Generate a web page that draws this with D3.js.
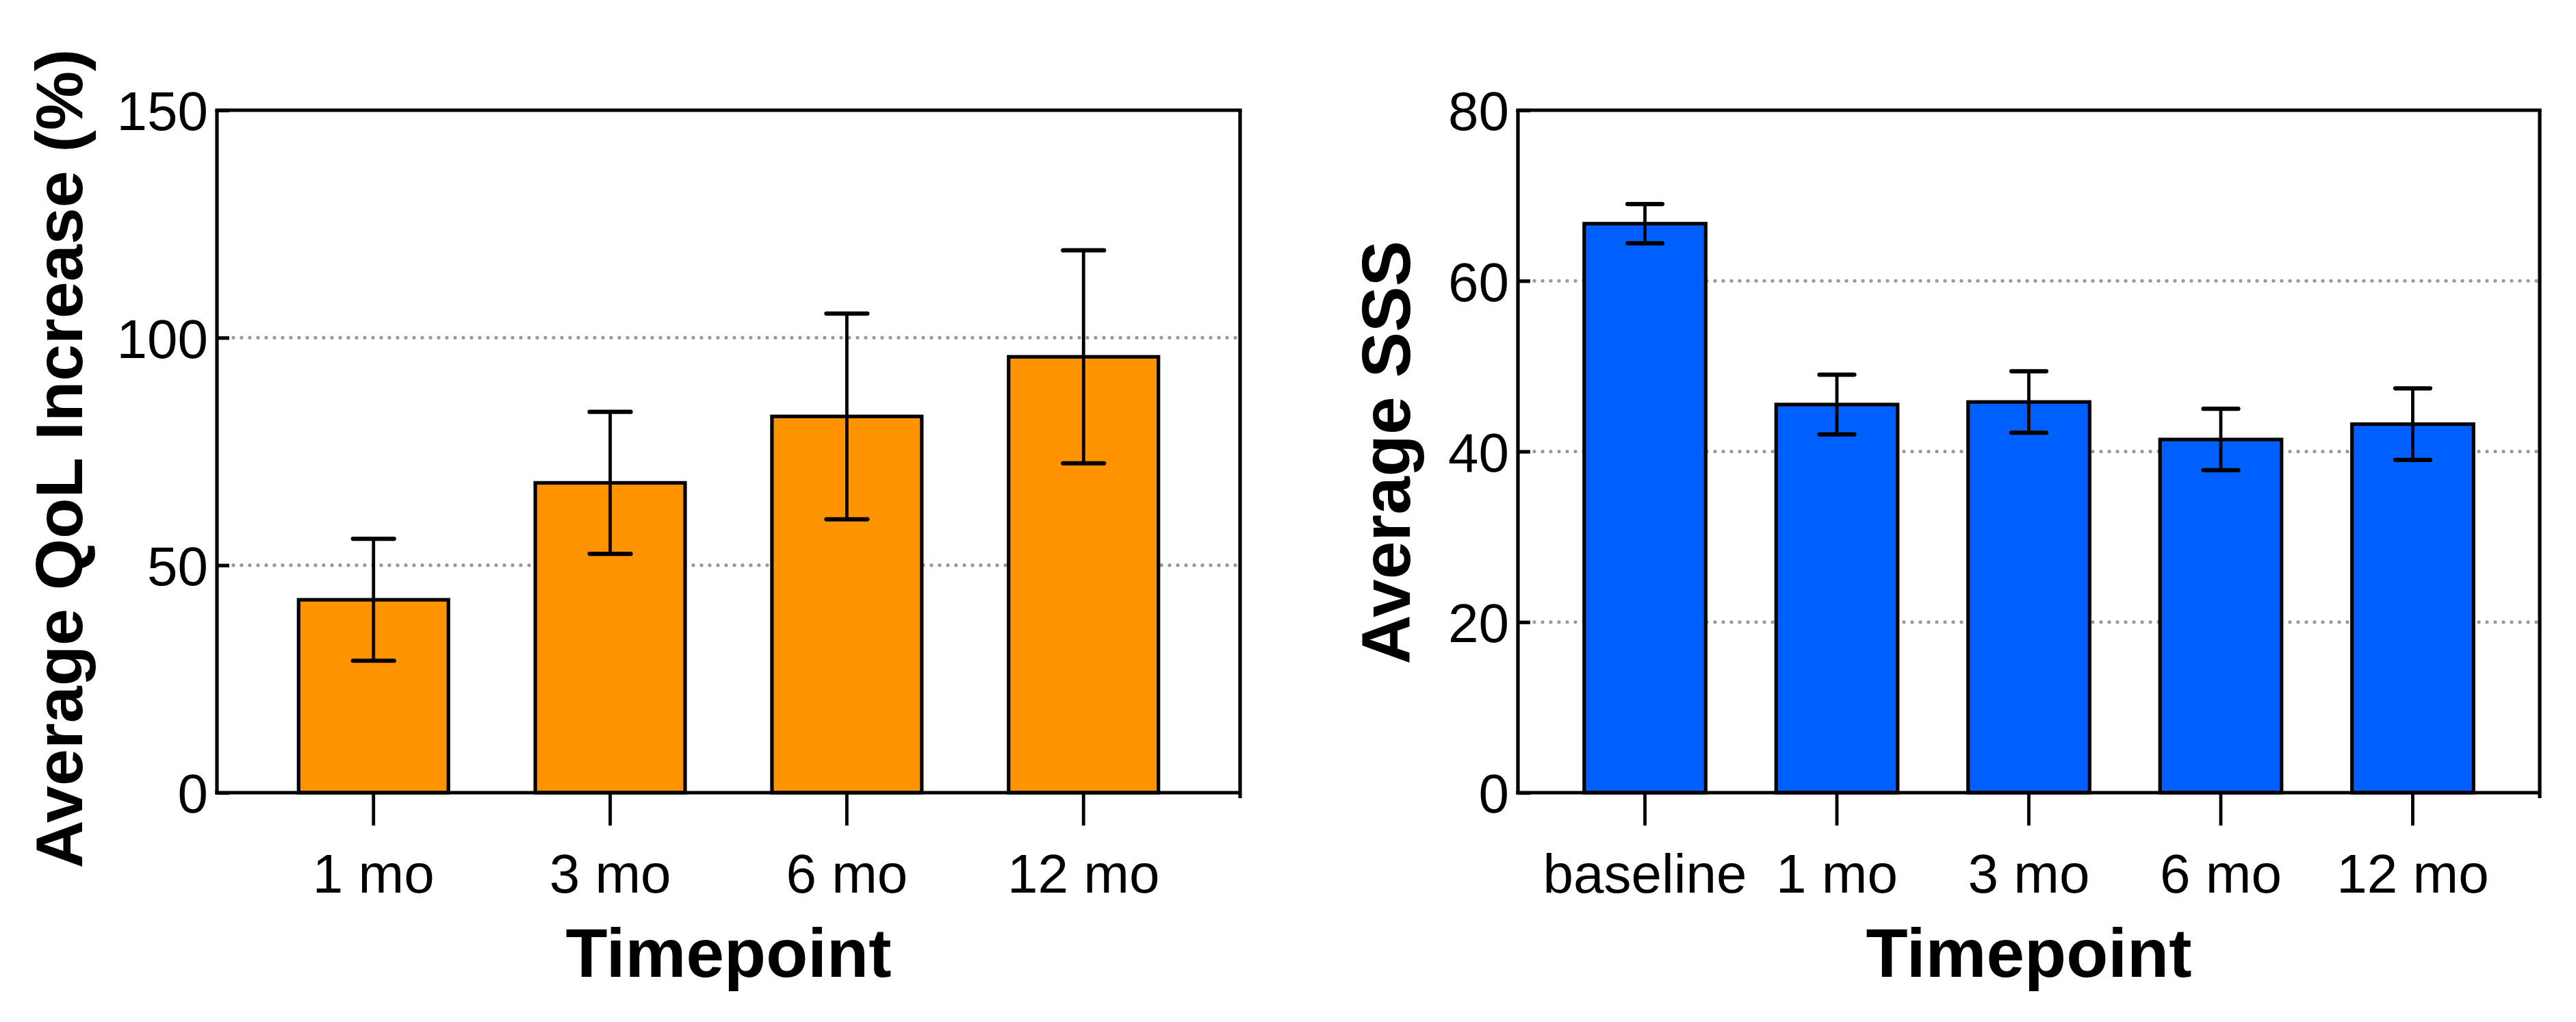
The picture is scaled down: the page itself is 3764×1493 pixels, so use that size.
<!DOCTYPE html>
<html>
<head>
<meta charset="utf-8">
<script src="https://cdn.jsdelivr.net/npm/d3@7/dist/d3.min.js"></script>
<style>
  html, body { margin: 0; padding: 0; background: #ffffff; }
  svg { display: block; }
</style>
</head>
<body>
<svg id="chart" width="3764" height="1493"></svg>
<script>
// ---------- Data ----------
const qolCategories = ["1 mo", "3 mo", "6 mo", "12 mo"];
const qolMeans = [42.4, 68.1, 82.7, 95.8];
const qolErrors = [13.4, 15.6, 22.6, 23.4];
const qolTicks = [0, 50, 100, 150];
const qolGrid = [50, 100];

const sssCategories = ["baseline", "1 mo", "3 mo", "6 mo", "12 mo"];
const sssMeans = [66.7, 45.5, 45.8, 41.4, 43.2];
const sssErrors = [2.3, 3.5, 3.6, 3.6, 4.2];
const sssTicks = [0, 20, 40, 60, 80];
const sssGrid = [20, 40, 60];

// ---------- Layout ----------
const W = 3764, H = 1493;
const FONT = "'Liberation Sans', Arial, Helvetica, sans-serif";
const svg = d3.select("#chart");
svg.append("rect").attr("width", W).attr("height", H).attr("fill", "#ffffff");

function panel(opts) {
  const g = svg.append("g");
  const x = d3.scaleBand()
    .domain(opts.categories)
    .range([opts.left, opts.right])
    .paddingInner(0.367)
    .paddingOuter(0.345);
  const y = d3.scaleLinear()
    .domain([0, opts.yMax])
    .range([opts.bottom, opts.top]);

  const data = opts.categories.map((c, i) => ({ c, m: opts.means[i], e: opts.errors[i] }));

  // gridlines (dotted)
  g.append("g").selectAll("line").data(opts.grid).join("line")
    .attr("x1", opts.left + 24).attr("x2", opts.right - 4)
    .attr("y1", d => y(d)).attr("y2", d => y(d))
    .attr("stroke", "#999999")
    .attr("stroke-width", 5.2)
    .attr("stroke-linecap", "round")
    .attr("stroke-dasharray", "0,12");

  // bars
  g.append("g").selectAll("rect").data(data).join("rect")
    .attr("x", d => x(d.c))
    .attr("width", x.bandwidth())
    .attr("y", d => y(d.m))
    .attr("height", d => y(0) - y(d.m))
    .attr("fill", opts.color)
    .attr("stroke", "#000")
    .attr("stroke-width", 5.2);

  // error bars
  const eb = g.append("g").attr("stroke", "#000");
  eb.selectAll("line.v").data(data).join("line").attr("class", "v")
    .attr("x1", d => x(d.c) + x.bandwidth() / 2)
    .attr("x2", d => x(d.c) + x.bandwidth() / 2)
    .attr("y1", d => y(d.m + d.e))
    .attr("y2", d => y(d.m - d.e))
    .attr("stroke-width", 4.8);
  ["top", "bot"].forEach(k => {
    eb.selectAll("line." + k).data(data).join("line").attr("class", k)
      .attr("x1", d => x(d.c) + x.bandwidth() / 2 - opts.cap / 2)
      .attr("x2", d => x(d.c) + x.bandwidth() / 2 + opts.cap / 2)
      .attr("y1", d => y(k === "top" ? d.m + d.e : d.m - d.e))
      .attr("y2", d => y(k === "top" ? d.m + d.e : d.m - d.e))
      .attr("stroke-width", 6.2)
      .attr("stroke-linecap", "round");
  });

  // y axis (inward ticks)
  const yAxis = d3.axisLeft(y).tickValues(opts.ticks).tickSize(-18).tickPadding(13);
  const ya = g.append("g").attr("transform", `translate(${opts.left},0)`).call(yAxis);
  ya.select(".domain").remove();
  ya.selectAll(".tick line").attr("stroke", "#000").attr("stroke-width", 5.2);
  ya.selectAll(".tick text")
    .attr("font-family", FONT).attr("font-size", 80).attr("fill", "#000")
    .attr("dy", "0.36em");

  // x axis (outward ticks)
  const xAxis = d3.axisBottom(x).tickSize(48).tickPadding(41);
  const xa = g.append("g").attr("transform", `translate(0,${opts.bottom})`).call(xAxis);
  xa.select(".domain").remove();
  xa.selectAll(".tick line").attr("stroke", "#000").attr("stroke-width", 4.8);
  xa.selectAll(".tick text")
    .attr("font-family", FONT).attr("font-size", 80).attr("fill", "#000")
    .attr("dy", "0.71em");

  // frame
  const fr = g.append("g").attr("stroke", "#000").attr("stroke-width", 5.2).attr("fill", "none");
  fr.append("line").attr("x1", opts.left - 2.6).attr("x2", opts.right + 2.6)
    .attr("y1", opts.top).attr("y2", opts.top);
  fr.append("line").attr("x1", opts.left - 2.6).attr("x2", opts.right)
    .attr("y1", opts.bottom).attr("y2", opts.bottom);
  fr.append("line").attr("x1", opts.left).attr("x2", opts.left)
    .attr("y1", opts.top).attr("y2", opts.bottom + 2.6);
  fr.append("line").attr("x1", opts.right).attr("x2", opts.right)
    .attr("y1", opts.top).attr("y2", opts.bottom + 8);

  // axis titles
  g.append("text")
    .attr("x", (opts.left + opts.right) / 2)
    .attr("y", 1427)
    .attr("text-anchor", "middle")
    .attr("font-family", FONT).attr("font-weight", "bold").attr("font-size", 100)
    .attr("fill", "#000")
    .text(opts.xTitle);

  g.append("text")
    .attr("transform", `translate(${opts.yTitleX},${opts.yTitleY}) rotate(-90)`)
    .attr("text-anchor", "middle")
    .attr("font-family", FONT).attr("font-weight", "bold").attr("font-size", opts.yTitleSize)
    .attr("fill", "#000")
    .text(opts.yTitle);
}

panel({
  categories: qolCategories, means: qolMeans, errors: qolErrors,
  ticks: qolTicks, grid: qolGrid, yMax: 150,
  left: 317, right: 1812, top: 161, bottom: 1158,
  color: "#FF9400", cap: 60,
  xTitle: "Timepoint", yTitle: "Average QoL Increase (%)",
  yTitleX: 120, yTitleY: 670, yTitleSize: 97
});

panel({
  categories: sssCategories, means: sssMeans, errors: sssErrors,
  ticks: sssTicks, grid: sssGrid, yMax: 80,
  left: 2218, right: 3711, top: 161, bottom: 1158,
  color: "#005FFF", cap: 51,
  xTitle: "Timepoint", yTitle: "Average SSS",
  yTitleX: 2060, yTitleY: 661, yTitleSize: 100
});
</script>
</body>
</html>
